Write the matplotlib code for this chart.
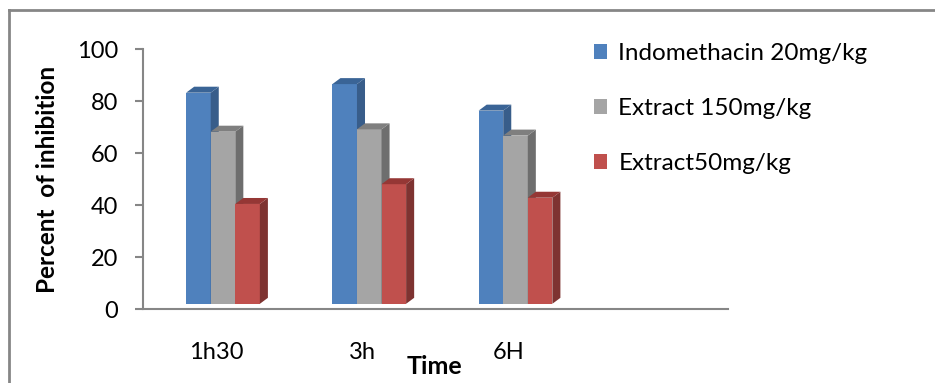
import numpy as np
import matplotlib.pyplot as plt
from matplotlib.lines import Line2D
from matplotlib.patches import Polygon

times = ['1h30', '3h', '6H']
labels = ['Indomethacin 20mg/kg', 'Extract 150mg/kg', 'Extract50mg/kg']
indomethacin = [83.2, 86.5, 76.3]
extract_150 = [68.2, 69.1, 66.7]
extract_50 = [40.4, 48.0, 42.8]
values = [indomethacin, extract_150, extract_50]

front_col = ['#4F81BD', '#A5A5A5', '#C0504D']
side_col = ['#385D8A', '#6E6E6E', '#7E3331']
top_col = ['#3A6496', '#7F7F7F', '#953735']

plt.rcParams['font.family'] = ['Lato', 'DejaVu Sans']

fig = plt.figure(figsize=(9.35, 3.83), dpi=100)
ax = fig.add_axes([143/935, 74/383, 585/935, 260/383])

x = np.arange(len(times))
w = 0.168
dx, dy = 0.055, 2.3   # fake 3d depth
base = 2.0
offsets = [-0.121, 0.047, 0.215]

handles = []
for i, vals in enumerate(values):
    b = ax.bar(x + offsets[i], np.array(vals) - base, w, bottom=base,
               color=front_col[i], zorder=3 + 3*i, label=labels[i])
    handles.append(b)
    for xc, v in zip(x + offsets[i], vals):
        l, r = xc - w/2, xc + w/2
        ax.add_patch(Polygon([(r, base), (r+dx, base+dy), (r+dx, v+dy), (r, v)],
                             closed=True, color=side_col[i], zorder=4 + 3*i, lw=0))
        ax.add_patch(Polygon([(l, v), (l+dx, v+dy), (r+dx, v+dy), (r, v)],
                             closed=True, color=top_col[i], zorder=4 + 3*i, lw=0))

ax.set_xlim(-0.5, 3.5)
ax.set_ylim(0, 100)
ax.set_yticks(range(0, 101, 20))
ax.set_xticks(x)
ax.set_xticklabels(times)
ax.tick_params(axis='x', length=0, pad=24, labelsize=17)
ax.tick_params(axis='y', length=6, width=1.5, color='#868686', pad=12, labelsize=17)
for s in ['top', 'right']:
    ax.spines[s].set_visible(False)
for s in ['left', 'bottom']:
    ax.spines[s].set_color('#868686')
    ax.spines[s].set_linewidth(1.5)

ax.legend(handles, labels, loc='upper left', bbox_to_anchor=(594/935, 340/383),
          bbox_transform=fig.transFigure, frameon=False, fontsize=17.5,
          labelspacing=1.4, handlelength=0.55, handleheight=0.55,
          handletextpad=0.45, borderaxespad=0, borderpad=0)

fig.text(48/935, 1 - 179/383, 'Percent  of inhibition', rotation=90,
         ha='center', va='center', fontweight='bold', fontsize=17.5)
fig.text(434/935, 1 - 367/383, 'Time', ha='center', va='center',
         fontweight='bold', fontsize=18)

# chart border (cut off at right and bottom)
fig.add_artist(Line2D([9/935, 9/935], [0, 373/383], color='#868686', lw=2,
                      transform=fig.transFigure))
fig.add_artist(Line2D([9/935, 1], [373/383, 373/383], color='#868686', lw=2,
                      transform=fig.transFigure))

fig.savefig('out.png', dpi=100)
